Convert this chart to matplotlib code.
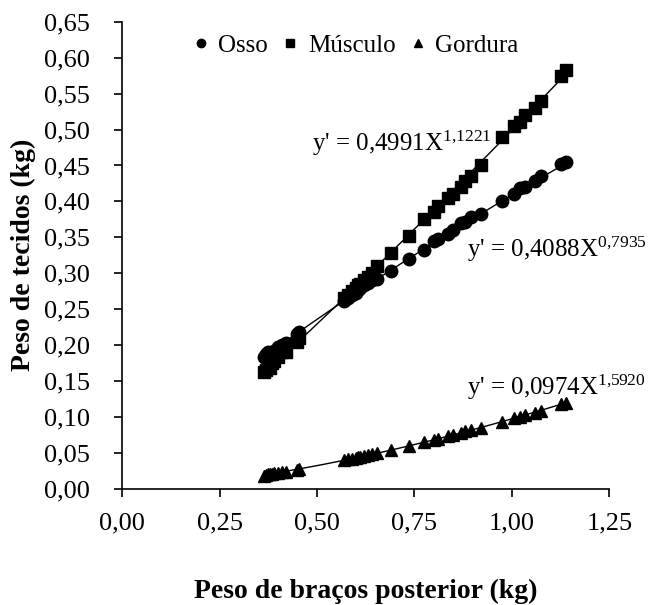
import matplotlib
matplotlib.use("Agg")
import matplotlib.pyplot as plt
import numpy as np
from matplotlib.lines import Line2D

plt.rcParams['font.family'] = ['Liberation Serif', 'DejaVu Serif']
plt.rcParams['mathtext.fontset'] = 'custom'
plt.rcParams['mathtext.rm'] = 'Liberation Serif'
plt.rcParams['mathtext.it'] = 'Liberation Serif'

# Data (kg)
peso_bracos = [0.365, 0.37, 0.375, 0.38, 0.385, 0.39, 0.40, 0.41, 0.42, 0.45, 0.455,
               0.57, 0.58, 0.59, 0.60, 0.605, 0.61, 0.62, 0.63, 0.64, 0.655, 0.69,
               0.735, 0.775, 0.80, 0.81, 0.835, 0.85, 0.87, 0.88, 0.895, 0.92,
               0.975, 1.005, 1.02, 1.035, 1.06, 1.075, 1.125, 1.14]
osso = [0.183, 0.187, 0.190, 0.185, 0.190, 0.192, 0.197, 0.200, 0.203, 0.215, 0.218,
        0.262, 0.266, 0.270, 0.272, 0.277, 0.280, 0.283, 0.287, 0.290, 0.292, 0.303,
        0.320, 0.332, 0.345, 0.348, 0.355, 0.360, 0.370, 0.372, 0.378, 0.383,
        0.400, 0.410, 0.418, 0.420, 0.428, 0.435, 0.452, 0.455]
musculo = [0.162, 0.165, 0.170, 0.168, 0.175, 0.178, 0.183, 0.190, 0.190, 0.205, 0.210,
           0.265, 0.270, 0.275, 0.280, 0.283, 0.285, 0.290, 0.295, 0.300, 0.310, 0.328,
           0.352, 0.375, 0.385, 0.393, 0.405, 0.410, 0.420, 0.428, 0.435, 0.450,
           0.490, 0.505, 0.510, 0.520, 0.530, 0.540, 0.575, 0.583]
gordura = [0.018, 0.019, 0.020, 0.021, 0.020, 0.022, 0.022, 0.023, 0.024, 0.026, 0.027,
           0.040, 0.041, 0.042, 0.043, 0.044, 0.045, 0.046, 0.047, 0.048, 0.050, 0.054,
           0.059, 0.065, 0.068, 0.069, 0.073, 0.075, 0.078, 0.080, 0.082, 0.085,
           0.093, 0.098, 0.100, 0.103, 0.106, 0.109, 0.118, 0.120]

series_names = ['Osso', 'Músculo', 'Gordura']
series_markers = ['o', 's', '^']
coef_a = [0.4088, 0.4991, 0.0974]
coef_b = [0.7935, 1.1221, 1.5920]
eq_labels = ["y' = 0,4088X$^{0{,}7935}$", "y' = 0,4991X$^{1{,}1221}$", "y' = 0,0974X$^{1{,}5920}$"]
eq_pos = [(0.886, 0.322), (0.488, 0.470), (0.886, 0.131)]

xticks = [0.0, 0.25, 0.5, 0.75, 1.0, 1.25]
yticks = [round(0.05 * i, 2) for i in range(14)]

fig = plt.figure(figsize=(6.53, 6.05), dpi=100)
ax = fig.add_axes([0.187, 0.192, 0.746, 0.772])

x = np.array(peso_bracos)
order = np.argsort(x)
xs = np.linspace(x.min(), x.max(), 200)
for ys, mk, a, b, lab, pos in zip([osso, musculo, gordura], series_markers,
                                  coef_a, coef_b, eq_labels, eq_pos):
    ys = np.array(ys)
    ax.plot(xs, a * xs ** b, color='black', lw=1.0, zorder=2)
    ax.plot(x[order], ys[order], linestyle='none', marker=mk, color='black',
            markersize=9, zorder=3)
    ax.text(pos[0], pos[1], lab, fontsize=18, ha='left', va='baseline')

ax.set_xlim(0, 1.25)
ax.set_ylim(0, 0.65)
ax.set_xticks(xticks)
ax.set_yticks(yticks)
fmt = lambda v: f"{v:.2f}".replace('.', ',')
ax.set_xticklabels([fmt(v) for v in xticks])
ax.set_yticklabels([fmt(v) for v in yticks])
ax.tick_params(axis='both', labelsize=19, length=6, width=1.2, direction='out',
               color='black')
ax.tick_params(axis='y', pad=17)
ax.tick_params(axis='x', pad=11)
ax.spines['top'].set_visible(False)
ax.spines['right'].set_visible(False)
ax.spines['left'].set_linewidth(1.2)
ax.spines['bottom'].set_linewidth(1.2)

ax.set_ylabel('Peso de tecidos (kg)', fontsize=20, fontweight='bold', labelpad=6)
ax.set_xlabel('Peso de braços posterior (kg)', fontsize=20, fontweight='bold', labelpad=32)

handles = [Line2D([], [], linestyle='none', marker=m, color='black', markersize=6)
           for m in series_markers]
ax.legend(handles, series_names, loc='upper center', bbox_to_anchor=(0.48, 1.0),
          ncol=3, frameon=False, fontsize=18, handlelength=0.6, handletextpad=0.4,
          columnspacing=0.6, borderaxespad=0.1)

fig.savefig('out.png', dpi=100)
